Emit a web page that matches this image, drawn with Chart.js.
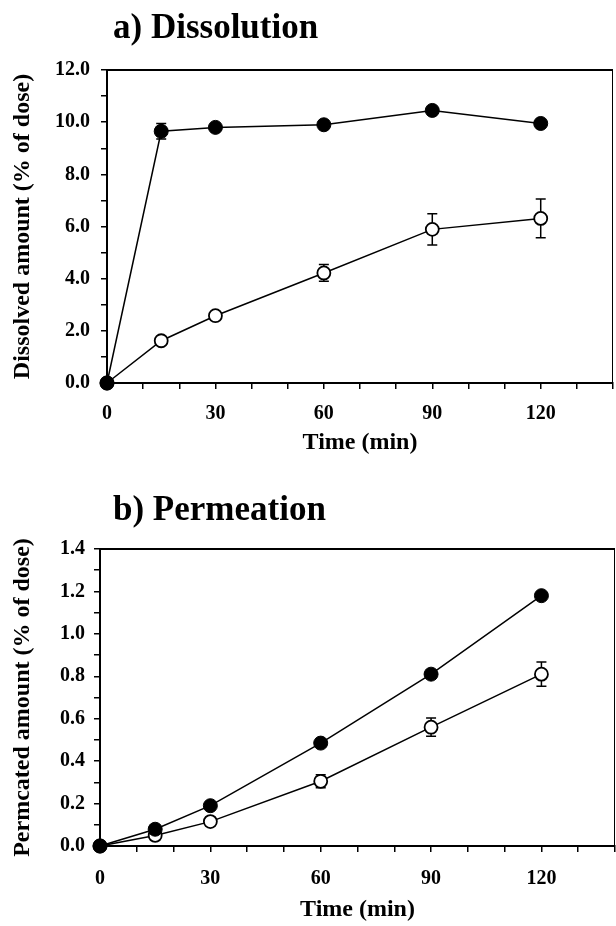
<!DOCTYPE html>
<html>
<head>
<meta charset="utf-8">
<script src="https://cdn.jsdelivr.net/npm/chart.js@4.4.1/dist/chart.umd.min.js"></script>
<style>
  html, body { margin: 0; padding: 0; background: #fff; }
  body { width: 616px; height: 926px; position: relative; overflow: hidden; }
  .panel { position: absolute; left: 0; width: 616px; }
  .heading {
    position: absolute;
    font-family: "Liberation Serif", "Times New Roman", serif;
    font-weight: bold;
    font-size: 35px;
    line-height: 35px;
    color: #000;
    white-space: nowrap;
  }
</style>
</head>
<body>
<div class="panel" style="top:0; height:460px;"><canvas id="dissolution-chart"></canvas></div>
<div class="panel" style="top:460px; height:466px;"><canvas id="permeation-chart"></canvas></div>
<div class="heading" style="left:113px; top:9px;">a) Dissolution</div>
<div class="heading" style="left:113px; top:491px;">b) Permeation</div>
<script>
// sampling times (min)
const timeMin = [0, 15, 30, 60, 90, 120];

// a) dissolved amount (% of dose)
const dissolvedFilled = [0, 9.65, 9.8, 9.9, 10.45, 9.95];
const dissolvedFilledErr = [0, 0.3, 0, 0, 0, 0];
const dissolvedOpen = [0, 1.62, 2.58, 4.22, 5.89, 6.31];
const dissolvedOpenErr = [0, 0, 0, 0.32, 0.6, 0.74];

// b) permeated amount (% of dose)
const permeatedFilled = [0, 0.079, 0.19, 0.485, 0.81, 1.18];
const permeatedFilledErr = [0, 0, 0, 0, 0, 0];
const permeatedOpen = [0, 0.05, 0.115, 0.305, 0.56, 0.81];
const permeatedOpenErr = [0, 0, 0, 0.031, 0.043, 0.057];

// tick labels
const timeTickLabels = [0, 30, 60, 90, 120];

const serif = '"Liberation Serif", "Times New Roman", serif';

const toPoints = values => values.map((v, i) => ({ x: timeMin[i], y: v }));

// error bars drawn behind the markers, through the chart scales
const errorBarPlugin = {
  id: 'errorBars',
  beforeDatasetsDraw(chart) {
    const { ctx, scales: { x, y } } = chart;
    ctx.save();
    ctx.strokeStyle = '#000';
    ctx.lineWidth = 1.5;
    chart.data.datasets.forEach(ds => {
      if (!ds.errors) return;
      ds.data.forEach((pt, i) => {
        const err = ds.errors[i];
        if (!err) return;
        const px = x.getPixelForValue(pt.x);
        const top = y.getPixelForValue(pt.y + err);
        const bottom = y.getPixelForValue(pt.y - err);
        ctx.beginPath();
        ctx.moveTo(px, top);
        ctx.lineTo(px, bottom);
        ctx.moveTo(px - 5, top);
        ctx.lineTo(px + 5, top);
        ctx.moveTo(px - 5, bottom);
        ctx.lineTo(px + 5, bottom);
        ctx.stroke();
      });
    });
    ctx.restore();
  }
};

// top and right edges of the plot box
const framePlugin = {
  id: 'frame',
  afterDraw(chart) {
    const { ctx, chartArea: { top, right, bottom, left } } = chart;
    ctx.save();
    ctx.strokeStyle = '#000';
    ctx.lineWidth = 2;
    ctx.beginPath();
    ctx.moveTo(left, top);
    ctx.lineTo(right, top);
    ctx.stroke();
    ctx.lineWidth = 1;
    ctx.beginPath();
    ctx.moveTo(right - 0.5, top);
    ctx.lineTo(right - 0.5, bottom);
    ctx.stroke();
    ctx.restore();
  }
};

function seriesDatasets(filled, filledErr, open, openErr) {
  return [{
    label: 'filled',
    data: toPoints(filled),
    errors: filledErr,
    borderColor: '#000',
    borderWidth: 1.5,
    pointRadius: 7,
    pointBackgroundColor: '#000',
    pointBorderColor: '#000',
    pointBorderWidth: 1,
    tension: 0,
    clip: false
  }, {
    label: 'open',
    data: toPoints(open),
    errors: openErr,
    borderColor: '#000',
    borderWidth: 1.5,
    pointRadius: 6.5,
    pointBackgroundColor: '#fff',
    pointBorderColor: '#000',
    pointBorderWidth: 1.8,
    tension: 0,
    clip: false
  }];
}

function timeAxis(height, labelPad, titlePad) {
  return {
    type: 'linear',
    min: 0,
    max: 140,
    afterFit: scale => {
      scale.height = height;
      // keep the plot box out to the right edge
      scale.paddingLeft = 0;
      scale.paddingRight = 0;
    },
    ticks: {
      stepSize: 10,
      autoSkip: false,
      maxRotation: 0,
      padding: labelPad,
      color: '#000',
      font: { family: serif, size: 20, weight: 'bold' },
      callback: v => timeTickLabels.includes(v) ? String(v) : ''
    },
    grid: { drawOnChartArea: false, drawTicks: true, tickLength: 6, color: '#000', lineWidth: 1.5 },
    border: { display: true, color: '#000', width: 2 },
    title: {
      display: true,
      text: 'Time (min)',
      color: '#000',
      font: { family: serif, size: 24, weight: 'bold' },
      padding: { top: 0, bottom: titlePad }
    }
  };
}

function amountAxis(title, max, step, labelEvery, width, labelPad) {
  return {
    min: 0,
    max: max,
    afterFit: scale => {
      scale.width = width;
      scale.paddingTop = 0;
      scale.paddingBottom = 0;
    },
    ticks: {
      stepSize: step,
      autoSkip: false,
      padding: labelPad,
      color: '#000',
      font: { family: serif, size: 20, weight: 'bold' },
      callback: v => Math.round(v / step) % labelEvery === 0 ? v.toFixed(1) : ''
    },
    grid: { drawOnChartArea: false, drawTicks: true, tickLength: 6, color: '#000', lineWidth: 1.5 },
    border: { display: true, color: '#000', width: 2 },
    title: {
      display: true,
      text: title,
      color: '#000',
      font: { family: serif, size: 24, weight: 'bold' },
      padding: { top: 8, bottom: 0 }
    }
  };
}

const dissolutionCtx = document.getElementById('dissolution-chart').getContext('2d');
new Chart(dissolutionCtx, {
  type: 'line',
  data: { datasets: seriesDatasets(dissolvedFilled, dissolvedFilledErr, dissolvedOpen, dissolvedOpenErr) },
  options: {
    responsive: true,
    maintainAspectRatio: false,
    animation: false,
    layout: { autoPadding: false, padding: { top: 70, right: 3, left: 0, bottom: 0 } },
    plugins: { legend: { display: false }, tooltip: { enabled: false } },
    scales: {
      x: timeAxis(77, 13, 3),
      y: amountAxis('Dissolved amount (% of dose)', 12, 1, 2, 107, 11)
    }
  },
  plugins: [errorBarPlugin, framePlugin]
});

const permeationCtx = document.getElementById('permeation-chart').getContext('2d');
new Chart(permeationCtx, {
  type: 'line',
  data: { datasets: seriesDatasets(permeatedFilled, permeatedFilledErr, permeatedOpen, permeatedOpenErr) },
  options: {
    responsive: true,
    maintainAspectRatio: false,
    animation: false,
    layout: { autoPadding: false, padding: { top: 89, right: 1, left: 0, bottom: 0 } },
    plugins: { legend: { display: false }, tooltip: { enabled: false } },
    scales: {
      x: timeAxis(80, 15, 2),
      y: amountAxis('Permcated amount (% of dose)', 1.4, 0.1, 2, 100, 9)
    }
  },
  plugins: [errorBarPlugin, framePlugin]
});
</script>
</body>
</html>
